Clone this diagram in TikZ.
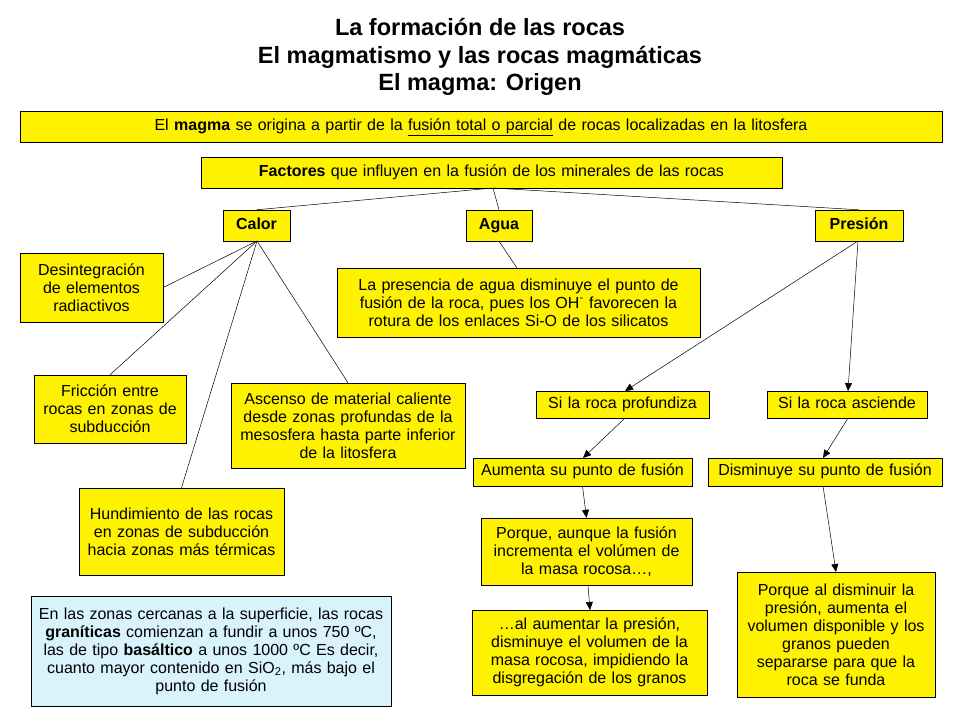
\documentclass[tikz,border=0pt]{standalone}
\usepackage{fontspec}
\setmainfont{Liberation Sans}
\usetikzlibrary{arrows.meta}
\begin{document}
\begin{tikzpicture}[x=1pt,y=-1pt,
 bx/.style={draw,fill=yellow,inner sep=1pt,align=center,font=\fontsize{16}{18}\selectfont,execute at begin node={\hyphenpenalty=10000\exhyphenpenalty=10000\relax}},
 ln/.style={draw,line width=0.5pt},
 ar/.style={draw,line width=0.5pt,-{Triangle[length=8pt,width=7pt]}}]
\useasboundingbox (0,0) rectangle (960,720);
\newcommand{\B}[5]{\node[bx,minimum width=#4-#2,minimum height=#5-#3,text width=#4-#2-4] (#1) at ({(#2+#4)/2},{(#3+#5)/2})}
\node[font=\bfseries\fontsize{23.5}{27.5}\selectfont,align=center] (title) at (480,57) {La formación de las rocas\\El magmatismo y las rocas magmáticas\\El magma: Origen};
\B{b1}{20}{111}{942}{142}{El \textbf{magma} se origina a partir de la \underline{fusión total o parcial} de rocas localizadas en la litosfera\strut};
\B{b2}{201}{157}{782}{188}{\textbf{Factores} que influyen en la fusión de los minerales de las rocas\strut};
\B{calor}{223}{210}{290}{241}{\textbf{Calor}\strut};
\B{agua}{466}{210}{532}{241}{\textbf{Agua}\strut};
\B{pres}{815}{210}{903}{241}{\textbf{Presión}\strut};
\B{des}{20}{253}{163}{322}{Desintegración\\de elementos\\radiactivos};
\B{pre}{337}{268}{700}{337}{La presencia de agua disminuye el punto de\\fusión de la roca, pues los OH\textsuperscript{-} favorecen la\\rotura de los enlaces Si-O de los silicatos};
\B{fri}{34}{375}{186}{443}{Fricción entre\\rocas en zonas de\\subducción};
\B{asc}{231}{383}{465}{468}{Ascenso de material caliente\\desde zonas profundas de la\\mesosfera hasta parte inferior\\de la litosfera};
\B{prof}{536}{391}{709}{418}{Si la roca profundiza\strut};
\B{ascd}{767}{391}{927}{418}{Si la roca asciende\strut};
\B{aum}{473}{458}{692}{486}{Aumenta su punto de fusión\strut};
\B{dis}{708}{458}{942}{486}{Disminuye su punto de fusión\strut};
\B{hun}{79}{488}{284}{575}{Hundimiento de las rocas\\en zonas de subducción\\hacia zonas más térmicas};
\B{paq}{481}{518}{692}{585}{Porque, aunque la fusión\\incrementa el volúmen de\\la masa rocosa…,};
\B{pad}{737}{572}{935}{697}{Porque al disminuir la\\presión, aumenta el\\volumen disponible y los\\granos pueden\\separarse para que la\\roca se funda};
\node[bx,fill=cyan!15,minimum width=360,minimum height=110,text width=356] (zon) at (211,651) {En las zonas cercanas a la superficie, las rocas\\\textbf{graníticas} comienzan a fundir a unos 750 ºC,\\las de tipo \textbf{basáltico} a unos 1000 ºC Es decir,\\cuanto mayor contenido en SiO\textsubscript{2}, más bajo el\\punto de fusión};
\B{alu}{472}{610}{707}{695}{…al aumentar la presión,\\disminuye el volumen de la\\masa rocosa, impidiendo la\\disgregación de los granos};
\coordinate (b2s) at (493,188);
\draw[ln] (b2s) -- (calor.north);
\draw[ln] (b2s) -- (agua.north);
\draw[ln] (b2s) -- (pres.north);
\coordinate (cs) at (257,241);
\draw[ln] (cs) -- (des.east);
\draw[ln] (cs) -- (fri.north);
\draw[ln] (cs) -- (hun.north);
\draw[ln] (cs) -- (asc.north);
\draw[ln] (agua.south) -- (517,268);
\coordinate (ps) at (858,241);
\draw[ar] (ps) -- (625,391);
\draw[ar] (ps) -- (848,391);
\draw[ar] (625,418) -- (583,458);
\draw[ar] (848,418) -- (823,458);
\draw[ar] (aum.south) -- (paq.north);
\draw[ar] (823,486) -- (836,572);
\draw[ar] (588,585) -- (590,610);
\end{tikzpicture}
\end{document}
